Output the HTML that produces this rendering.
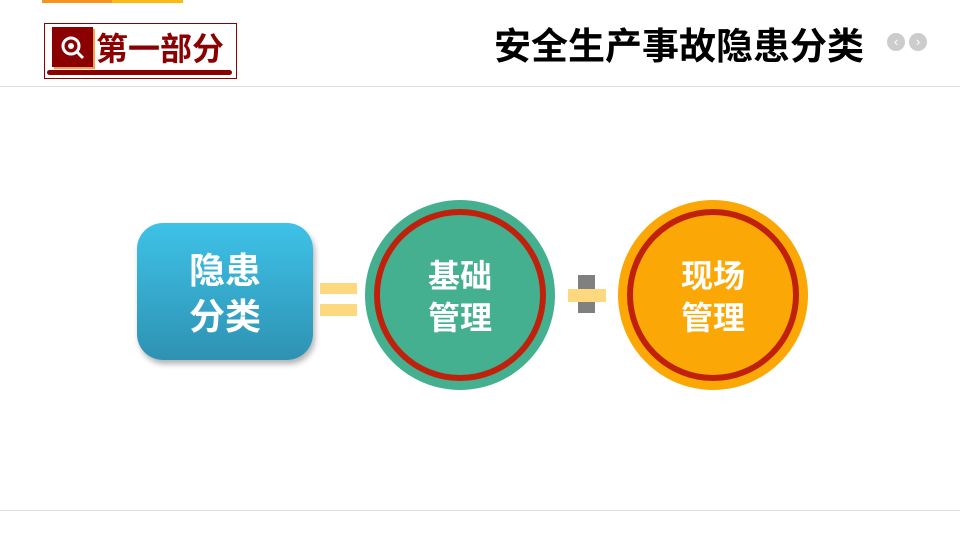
<!DOCTYPE html>
<html><head><meta charset="utf-8"><style>
body{margin:0;width:960px;height:540px;background:#fff;position:relative;overflow:hidden;font-family:"Liberation Sans","Noto Sans CJK SC",sans-serif}
.a{position:absolute}
</style></head><body>
<div class="a" style="left:42px;top:0;width:70px;height:3px;background:#f7941d"></div>
<div class="a" style="left:112px;top:0;width:71px;height:3px;background:#fdb913"></div>
<div class="a" style="left:44px;top:23px;width:191px;height:54px;border:1px solid #8b0000"></div>
<div class="a" style="left:54px;top:29px;width:41px;height:40px;background:#f6a04d"></div>
<div class="a" style="left:52px;top:27px;width:41px;height:40px;background:#8b0000"></div>
<svg class="a" style="left:52px;top:27px" width="41" height="40"><circle cx="19" cy="19" r="8" fill="none" stroke="#fff" stroke-width="3"/><circle cx="19" cy="19" r="3" fill="#fff"/><line x1="24" y1="24" x2="31" y2="31" stroke="#fff" stroke-width="3"/></svg>
<div class="a" style="left:96px;top:29px;font-size:32px;font-weight:bold;color:#8b0000;line-height:40px;letter-spacing:0px">第一部分</div>
<div class="a" style="left:47px;top:70px;width:185px;height:5px;background:#8b0000;border-radius:3px"></div>
<div class="a" style="left:494px;top:25px;font-size:37px;font-weight:bold;color:#000;line-height:44px">安全生产事故隐患分类</div>
<div class="a" style="left:887px;top:33px;width:18px;height:18px;border-radius:50%;background:#ccc;color:#fff;font-size:13px;text-align:center;line-height:18px">‹</div>
<div class="a" style="left:909px;top:33px;width:18px;height:18px;border-radius:50%;background:#ccc;color:#fff;font-size:13px;text-align:center;line-height:18px">›</div>
<div class="a" style="left:0;top:86px;width:960px;height:1px;background:#ddd"></div>
<div class="a" style="left:0;top:510px;width:960px;height:1px;background:#ddd"></div>
<div class="a" style="left:137px;top:223px;width:176px;height:137px;border-radius:26px;background:linear-gradient(#3ec2e8,#2e92b2);box-shadow:2px 4px 6px rgba(0,0,0,.3);color:#fff;font-weight:bold;font-size:36px;line-height:46px;text-align:center;display:flex;align-items:center;justify-content:center"><div style="margin-top:4px">隐患<br>分类</div></div>
<div class="a" style="left:320px;top:283px;width:37px;height:11px;background:#fdd87f"></div>
<div class="a" style="left:320px;top:304px;width:37px;height:12px;background:#fdd87f"></div>
<div class="a" style="left:578px;top:275px;width:17px;height:38px;background:#808080"></div>
<div class="a" style="left:568px;top:289px;width:38px;height:13px;background:#fdd87f"></div>
<svg class="a" style="left:0;top:0" width="960" height="540">
<circle cx="460" cy="295" r="95" fill="#45b08f"/>
<circle cx="460" cy="295" r="83" fill="#45b08f" stroke="#c0210c" stroke-width="6"/>
<circle cx="713" cy="295" r="95" fill="#fba705"/>
<circle cx="713" cy="295" r="83" fill="#fba705" stroke="#c0210c" stroke-width="6"/>
</svg>
<div class="a" style="left:400px;top:255px;width:120px;text-align:center;color:#fff;font-weight:bold;font-size:32px;line-height:42px">基础<br>管理</div>
<div class="a" style="left:653px;top:255px;width:120px;text-align:center;color:#fff;font-weight:bold;font-size:32px;line-height:42px">现场<br>管理</div>
</body></html>
